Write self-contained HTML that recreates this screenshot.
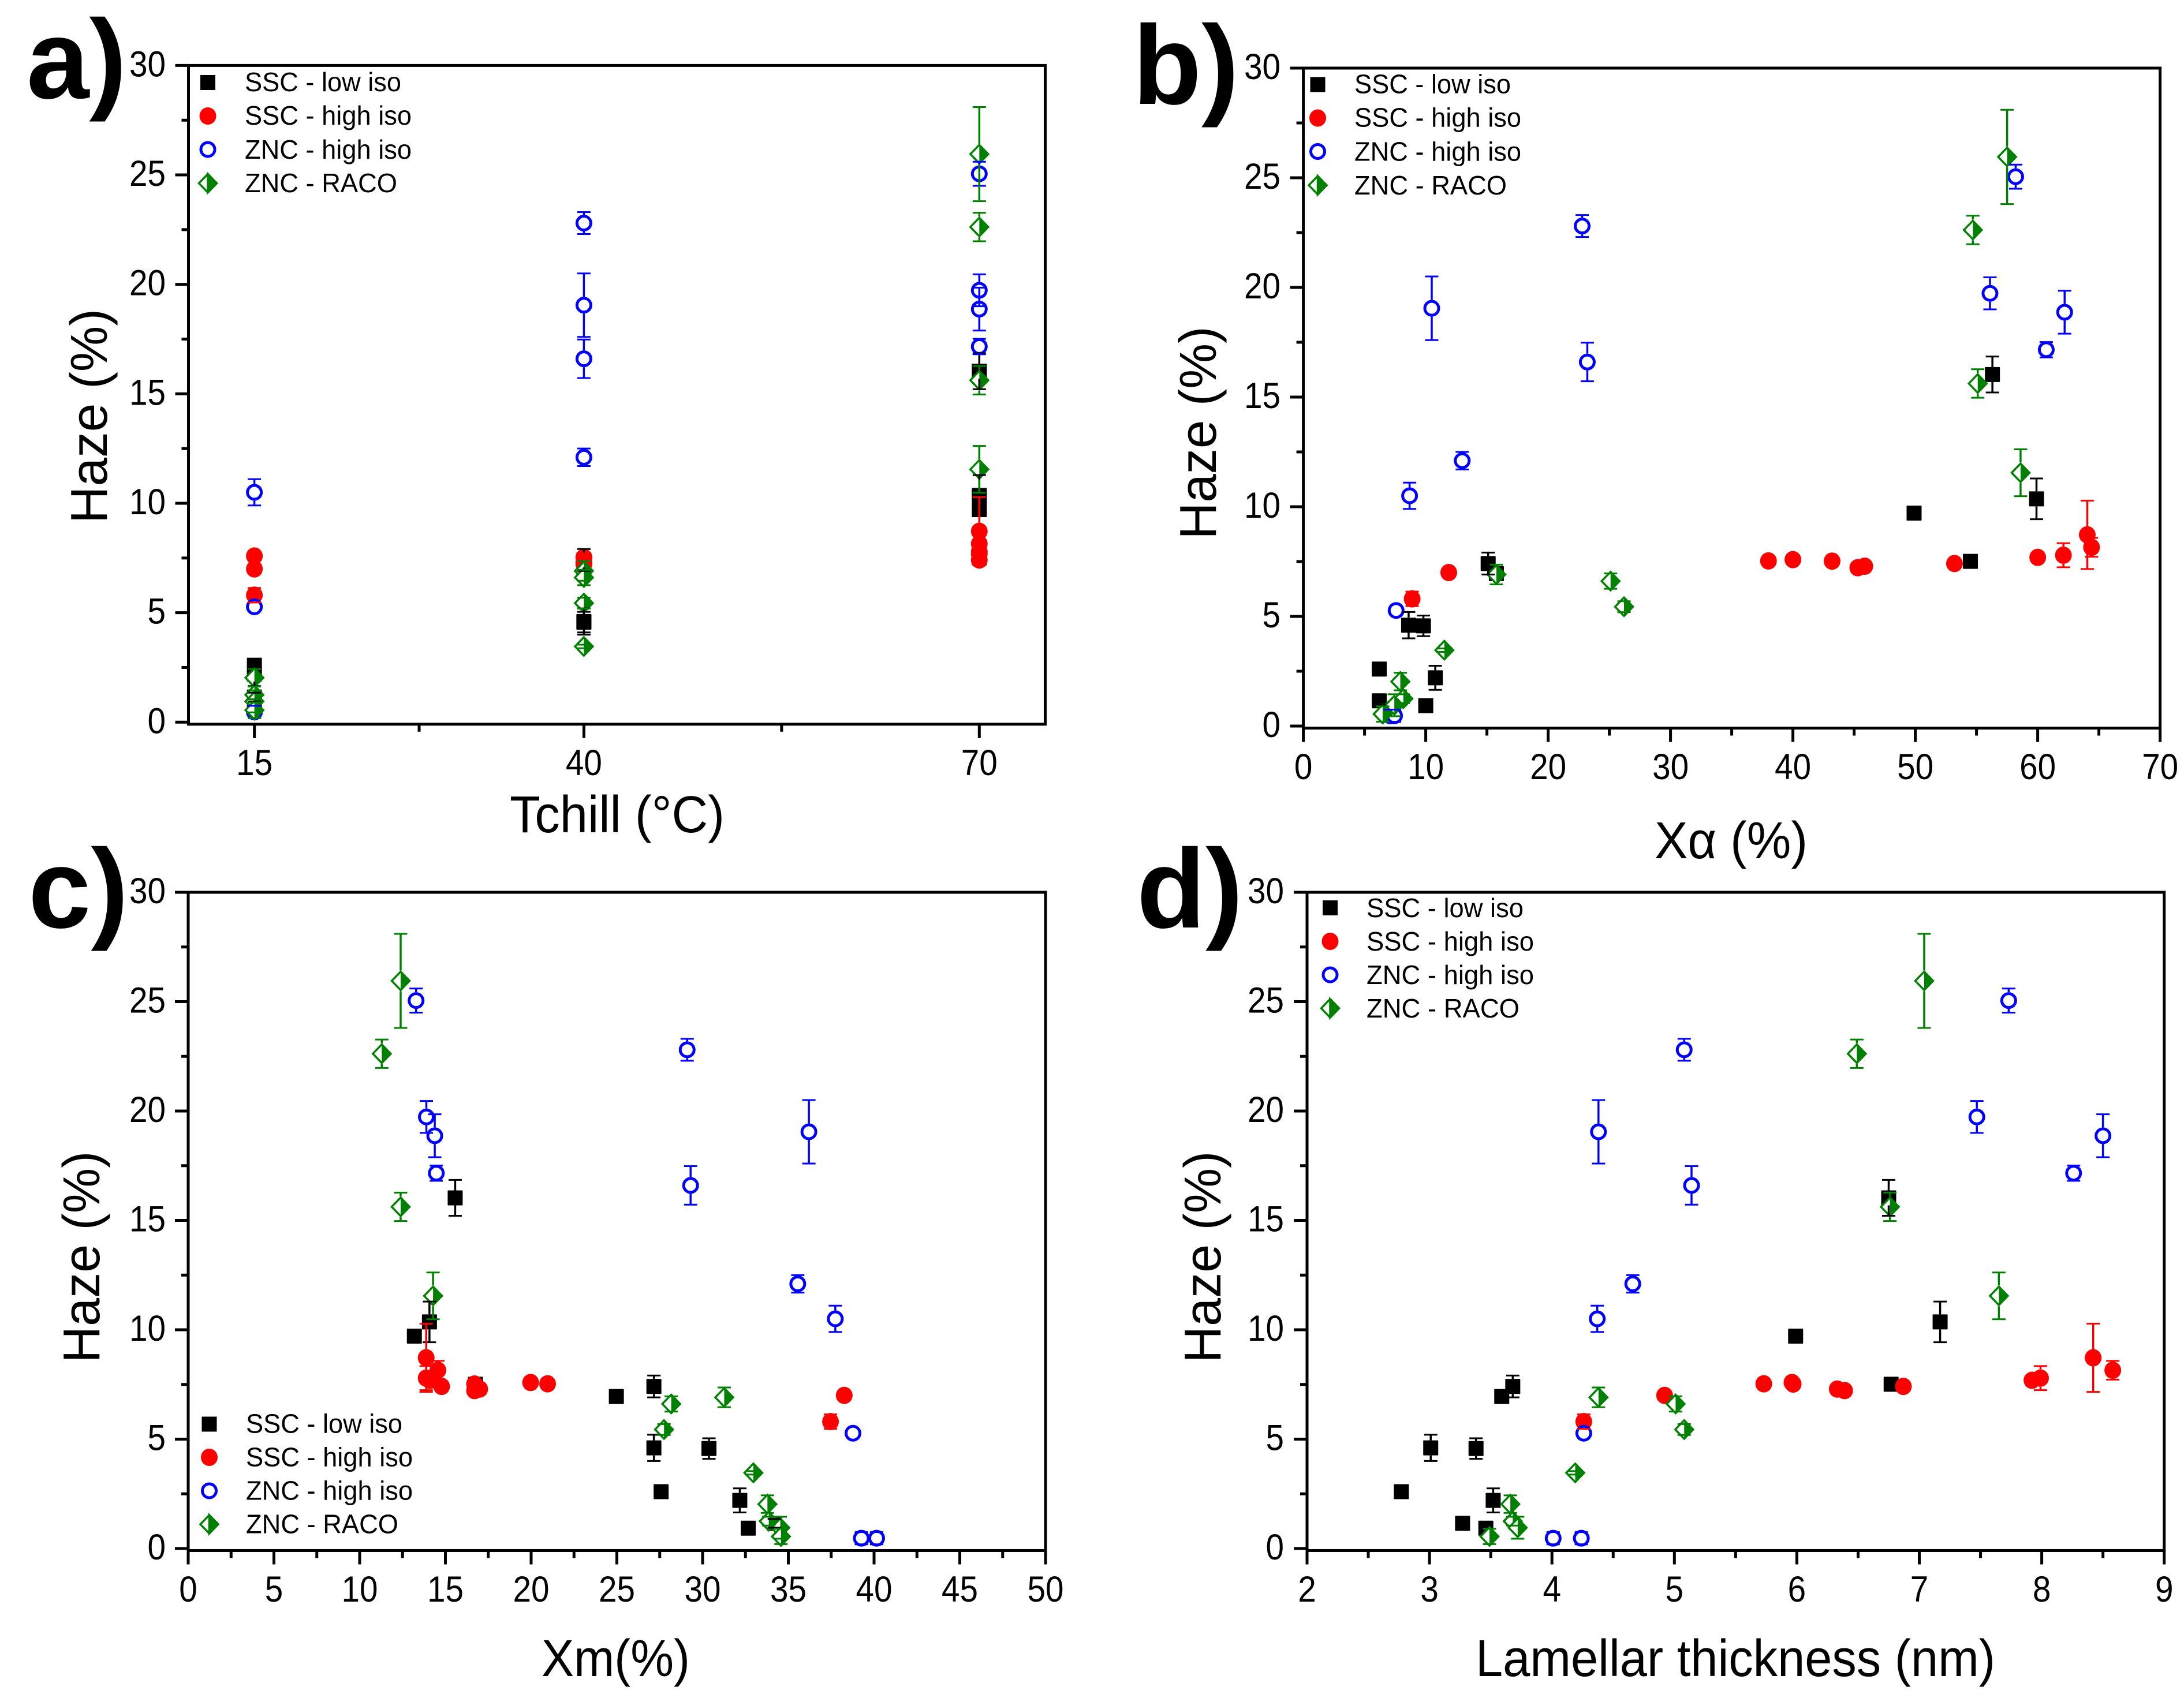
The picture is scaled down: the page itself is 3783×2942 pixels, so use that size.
<!DOCTYPE html>
<html lang="en">
<head>
<meta charset="utf-8">
<title>Haze charts</title>
<style>
html,body{margin:0;padding:0;background:#fff;}
svg{display:block;font-family:"Liberation Sans",sans-serif;}
</style>
</head>
<body>
<svg id="figure" xmlns="http://www.w3.org/2000/svg" width="3783" height="2942" viewBox="0 0 3783 2942">
<rect x="0" y="0" width="3783" height="2942" fill="#fff"/>
<g id="plots"></g>

<g font-weight="bold" font-size="195" fill="#000">
<text x="46" y="170">a)</text>
<text x="1962" y="180">b)</text>
<text x="49" y="1607">c)</text>
<text x="1969" y="1607">d)</text>
</g>

<g font-size="90" fill="#000">
<text text-anchor="middle" textLength="372" lengthAdjust="spacingAndGlyphs" transform="translate(185,721) rotate(-90)">Haze (%)</text>
<text text-anchor="middle" textLength="369" lengthAdjust="spacingAndGlyphs" transform="translate(2106,750) rotate(-90)">Haze (%)</text>
<text text-anchor="middle" textLength="367" lengthAdjust="spacingAndGlyphs" transform="translate(172,2178) rotate(-90)">Haze (%)</text>
<text text-anchor="middle" textLength="367" lengthAdjust="spacingAndGlyphs" transform="translate(2114,2178) rotate(-90)">Haze (%)</text>
<text x="883" y="1442" textLength="372" lengthAdjust="spacingAndGlyphs">Tchill (°C)</text>
<text x="2866" y="1487" textLength="265" lengthAdjust="spacingAndGlyphs">Xα (%)</text>
<text x="938" y="2904" textLength="257" lengthAdjust="spacingAndGlyphs">Xm(%)</text>
<text x="2556" y="2904" textLength="900" lengthAdjust="spacingAndGlyphs">Lamellar thickness (nm)</text>
</g>

<g font-size="46" fill="#000">
<rect x="347" y="130" width="26" height="26" fill="#000"/>
<text x="424" y="158" textLength="271" lengthAdjust="spacingAndGlyphs">SSC - low iso</text>
<ellipse cx="360" cy="201" rx="14.5" ry="15" fill="#f00"/>
<text x="424" y="216" textLength="289" lengthAdjust="spacingAndGlyphs">SSC - high iso</text>
<circle cx="360" cy="259" r="12" fill="#fff" stroke="#00f" stroke-width="5"/>
<text x="424" y="275" textLength="289" lengthAdjust="spacingAndGlyphs">ZNC - high iso</text>
<path d="M360 301.5L375.500 317.500L360 333.500L344.500 317.500Z" fill="#fff" stroke="#008000" stroke-width="3.5"/>
<path d="M360 301.500L375.500 317.500L360 333.500Z" fill="#008000" stroke="#008000" stroke-width="3.5"/>
<text x="424" y="333" textLength="264" lengthAdjust="spacingAndGlyphs">ZNC - RACO</text>
</g>

<g font-size="46" fill="#000">
<rect x="2269.500" y="133.500" width="26" height="26" fill="#000"/>
<text x="2346" y="161.500" textLength="271" lengthAdjust="spacingAndGlyphs">SSC - low iso</text>
<ellipse cx="2282.500" cy="204.500" rx="14.5" ry="15" fill="#f00"/>
<text x="2346" y="219.500" textLength="289" lengthAdjust="spacingAndGlyphs">SSC - high iso</text>
<circle cx="2282.500" cy="262.500" r="12" fill="#fff" stroke="#00f" stroke-width="5"/>
<text x="2346" y="278.500" textLength="289" lengthAdjust="spacingAndGlyphs">ZNC - high iso</text>
<path d="M2282.500 305L2298 321L2282.500 337L2267 321Z" fill="#fff" stroke="#008000" stroke-width="3.5"/>
<path d="M2282.500 305L2298 321L2282.500 337Z" fill="#008000" stroke="#008000" stroke-width="3.5"/>
<text x="2346" y="337" textLength="264" lengthAdjust="spacingAndGlyphs">ZNC - RACO</text>
</g>

<g font-size="46" fill="#000">
<rect x="349.500" y="2454.500" width="26" height="26" fill="#000"/>
<text x="426" y="2482.500" textLength="271" lengthAdjust="spacingAndGlyphs">SSC - low iso</text>
<ellipse cx="362.500" cy="2525" rx="14.5" ry="15" fill="#f00"/>
<text x="426" y="2540.500" textLength="289" lengthAdjust="spacingAndGlyphs">SSC - high iso</text>
<circle cx="362.500" cy="2583" r="12" fill="#fff" stroke="#00f" stroke-width="5"/>
<text x="426" y="2598.500" textLength="289" lengthAdjust="spacingAndGlyphs">ZNC - high iso</text>
<path d="M362.500 2625L378 2641L362.500 2657L347 2641Z" fill="#fff" stroke="#008000" stroke-width="3.5"/>
<path d="M362.500 2625L378 2641L362.500 2657Z" fill="#008000" stroke="#008000" stroke-width="3.5"/>
<text x="426" y="2656.500" textLength="264" lengthAdjust="spacingAndGlyphs">ZNC - RACO</text>
</g>

<g font-size="46" fill="#000">
<rect x="2291" y="1560" width="26" height="26" fill="#000"/>
<text x="2367" y="1589" textLength="272" lengthAdjust="spacingAndGlyphs">SSC - low iso</text>
<ellipse cx="2304" cy="1631" rx="14.5" ry="15" fill="#f00"/>
<text x="2367" y="1647" textLength="290" lengthAdjust="spacingAndGlyphs">SSC - high iso</text>
<circle cx="2304" cy="1689" r="12" fill="#fff" stroke="#00f" stroke-width="5"/>
<text x="2367" y="1705" textLength="290" lengthAdjust="spacingAndGlyphs">ZNC - high iso</text>
<path d="M2304 1731L2319.500 1747L2304 1763L2288.500 1747Z" fill="#fff" stroke="#008000" stroke-width="3.5"/>
<path d="M2304 1731L2319.500 1747L2304 1763Z" fill="#008000" stroke="#008000" stroke-width="3.5"/>
<text x="2367" y="1763" textLength="265" lengthAdjust="spacingAndGlyphs">ZNC - RACO</text>
</g>
</svg>

<script>
// Haze values and error bars, shared by the four panels
const hazeSscLow  = [16.03,10.36,9.71,7.51,7.41,6.95,4.6,4.57,2.6,2.2,1.15,0.93];
const errSscLow   = [0.82,0.93,0,0,0.5,0,0.6,0.47,0,0.55,0.2,0];
const hazeSscHigh = [8.72,8.15,7.79,7.69,7.59,7.53,7.52,7.41,7.29,7.22,7.0,5.8];
const errSscHigh  = [1.56,0.43,0.55,0,0,0,0,0,0,0,0,0.33];
const hazeZncHigh = [25.05,22.8,19.73,19.05,18.87,17.16,16.6,12.1,10.5,5.27,0.47,0.47];
const errZncHigh  = [0.55,0.5,0.73,1.45,0.98,0.35,0.88,0.4,0.6,0,0.28,0.28];
const hazeZncRaco = [25.95,22.62,15.62,11.55,6.91,6.61,5.44,3.46,2.03,1.25,0.95,0.55];
const errZncRaco  = [2.15,0.65,0.65,1.07,0.45,0.35,0.25,0.08,0.4,0.2,0.5,0.35];

// Tchill (panel a)
const tchillSscLow  = [70,70,70,70,40,40,40,40,15,15,15,15];
const tchillSscHigh = [70,70,70,70,15,40,40,70,40,40,15,15];
const tchillZncHigh = [70,40,70,40,70,70,40,40,15,15,15,15];
const tchillZncRaco = [70,70,70,70,40,40,40,40,15,15,15,15];

// X-alpha (panel b)
const xalphaSscLow  = [56.3,59.9,49.9,54.5,15.1,15.77,8.6,9.81,6.2,10.78,6.2,10.0];
const xalphaSscHigh = [64.05,64.4,62.1,60.0,40.0,38.0,43.2,53.2,45.87,45.3,11.88,8.89];
const xalphaZncHigh = [58.2,22.78,56.1,10.49,62.2,60.7,23.2,12.98,8.68,7.58,7.1,7.45];
const xalphaZncRaco = [57.5,54.7,55.1,58.6,15.77,25.1,26.2,11.52,7.92,8.17,7.43,6.48];

// Xm (panel c)
const xmSscLow  = [15.57,14.07,13.19,16.75,27.16,24.97,27.16,30.37,27.58,32.17,34.18,32.66];
const xmSscHigh = [13.88,14.56,13.88,14.1,19.97,20.96,16.7,14.78,17.0,16.7,38.26,37.46];
const xmZncHigh = [13.29,29.1,13.89,36.2,14.38,14.47,29.3,35.55,37.74,38.77,39.26,40.15];
const xmZncRaco = [12.39,11.29,12.39,14.28,31.26,28.17,27.75,32.96,33.78,33.86,34.53,34.57];

// Lamellar thickness (panel d)
const lamSscLow  = [6.75,7.17,5.99,6.77,3.68,3.59,3.01,3.38,2.77,3.52,3.27,3.46];
const lamSscHigh = [8.42,8.58,7.99,7.92,5.96,5.73,5.97,6.87,6.33,6.39,4.92,4.26];
const lamZncHigh = [7.73,5.08,7.47,4.38,8.5,8.26,5.14,4.66,4.37,4.26,4.01,4.24];
const lamZncRaco = [7.04,6.49,6.76,7.65,4.38,5.01,5.08,4.19,3.66,3.68,3.72,3.49];

// Tick labels
const yTicks = [0,5,10,15,20,25,30];
const yMinorTicks = [2.5,7.5,12.5,17.5,22.5,27.5];
const xTicksA = [15,40,70];
const xMinorA = [27.5,55];
const xTicksB = [0,10,20,30,40,50,60,70];
const xMinorB = [5,15,25,35,45,55,65];
const xTicksC = [0,5,10,15,20,25,30,35,40,45,50];
const xMinorC = [2.5,7.5,12.5,17.5,22.5,27.5,32.5,37.5,42.5,47.5];
const xTicksD = [2,3,4,5,6,7,8,9];
const xMinorD = [2.5,3.5,4.5,5.5,6.5,7.5,8.5];

const NS = 'http://www.w3.org/2000/svg';
const root = document.getElementById('plots');

function mk(parent, tag, attrs) {
  const el = document.createElementNS(NS, tag);
  for (const k in attrs) el.setAttribute(k, attrs[k]);
  parent.appendChild(el);
  return el;
}

const panels = [
  {id:'a', xMin:10, xMax:75, left:326.5, xUnit:22.83, yZero:1251.3, yUnit:37.93, xLabelY:1343, yLabelX:287,
   ticks:xTicksA, minor:xMinorA, xs:[tchillSscLow,tchillSscHigh,tchillZncHigh,tchillZncRaco]},
  {id:'b', xMin:0, xMax:70, left:2257.6, xUnit:21.2, yZero:1258, yUnit:38, xLabelY:1350, yLabelX:2218,
   ticks:xTicksB, minor:xMinorB, xs:[xalphaSscLow,xalphaSscHigh,xalphaZncHigh,xalphaZncRaco]},
  {id:'c', xMin:0, xMax:50, left:326, xUnit:29.7, yZero:2683, yUnit:37.9, xLabelY:2775, yLabelX:287,
   ticks:xTicksC, minor:xMinorC, xs:[xmSscLow,xmSscHigh,xmZncHigh,xmZncRaco]},
  {id:'d', xMin:2, xMax:9, left:2264, xUnit:212.1, yZero:2683, yUnit:37.9, xLabelY:2775, yLabelX:2224,
   ticks:xTicksD, minor:xMinorD, xs:[lamSscLow,lamSscHigh,lamZncHigh,lamZncRaco]}
];

const seriesHaze = [hazeSscLow, hazeSscHigh, hazeZncHigh, hazeZncRaco];
const seriesErr = [errSscLow, errSscHigh, errZncHigh, errZncRaco];
const seriesNames = ['ssc-low-iso','ssc-high-iso','znc-high-iso','znc-raco'];
const seriesColors = ['#000','#f00','#00f','#008000'];
const seriesHalf = [13, 15, 14.5, 18];

function drawSymbol(g, k, cx, cy) {
  const sym = document.createElementNS(NS, 'g');
  
  
  g.appendChild(sym);
  if (k === 0) {
    mk(sym, 'rect', {x:cx-13, y:cy-13, width:26, height:26, fill:'#000', rx:1});
  } else if (k === 1) {
    mk(sym, 'ellipse', {cx:cx, cy:cy, rx:14.5, ry:15, fill:'#f00'});
  } else if (k === 2) {
    mk(sym, 'circle', {cx:cx, cy:cy, r:12, fill:'#fff', stroke:'#00f', 'stroke-width':5});
  } else {
    mk(sym, 'path', {d:`M${cx} ${cy-16}L${cx+15.5} ${cy}L${cx} ${cy+16}L${cx-15.5} ${cy}Z`, fill:'#fff', stroke:'#008000', 'stroke-width':3.5});
    mk(sym, 'path', {d:`M${cx} ${cy-16}L${cx+15.5} ${cy}L${cx} ${cy+16}Z`, fill:'#008000'});
  }
}

function drawError(g, k, cx, cy, e) {
  const bar = document.createElementNS(NS, 'g');
  
  
  bar.setAttribute('stroke', seriesColors[k]);
  g.appendChild(bar);
  const half = seriesHalf[k];
  if (e > half) {
    mk(bar, 'line', {x1:cx, x2:cx, y1:cy-e, y2:cy-half, 'stroke-width':3.5});
    mk(bar, 'line', {x1:cx, x2:cx, y1:cy+half, y2:cy+e, 'stroke-width':3.5});
  }
  mk(bar, 'line', {x1:cx-11.5, x2:cx+11.5, y1:cy-e, y2:cy-e, 'stroke-width':3});
  mk(bar, 'line', {x1:cx-11.5, x2:cx+11.5, y1:cy+e, y2:cy+e, 'stroke-width':3});
}

function drawXLabel(g, text, x, y) {
  const t = document.createElementNS(NS, 'text');
  
  
  t.setAttribute('x', x);
  t.setAttribute('y', y);
  t.setAttribute('text-anchor', 'middle');
  t.setAttribute('font-size', 63);
  t.setAttribute('textLength', String(text).length * 31.5);
  t.setAttribute('lengthAdjust', 'spacingAndGlyphs');
  t.textContent = text;
  g.appendChild(t);
}

function drawYLabel(g, text, x, y) {
  const t = document.createElementNS(NS, 'text');
  
  
  t.setAttribute('x', x);
  t.setAttribute('y', y);
  t.setAttribute('text-anchor', 'end');
  t.setAttribute('font-size', 63);
  t.setAttribute('textLength', String(text).length * 31.5);
  t.setAttribute('lengthAdjust', 'spacingAndGlyphs');
  t.textContent = text;
  g.appendChild(t);
}

function drawTick(g, x1, y1, x2, y2) {
  const l = document.createElementNS(NS, 'line');
  
  
  l.setAttribute('x1', x1);
  l.setAttribute('y1', y1);
  l.setAttribute('x2', x2);
  l.setAttribute('y2', y2);
  l.setAttribute('stroke', '#000');
  l.setAttribute('stroke-width', 5);
  g.appendChild(l);
}

panels.forEach(function (p) {
  const xOf = function (v) { return p.left + (v - p.xMin) * p.xUnit; };
  const yOf = function (v) { return p.yZero - v * p.yUnit; };
  const bottom = p.yZero + 3.5;
  const right = xOf(p.xMax);
  const top = yOf(30);

  const g = document.createElementNS(NS, 'g');
  
  
  root.appendChild(g);

  const frame = document.createElementNS(NS, 'rect');
  
  
  frame.setAttribute('x', p.left);
  frame.setAttribute('y', top);
  frame.setAttribute('width', right - p.left);
  frame.setAttribute('height', bottom - top);
  frame.setAttribute('fill', 'none');
  frame.setAttribute('stroke', '#000');
  frame.setAttribute('stroke-width', 5);
  g.appendChild(frame);

  yTicks.forEach(function (v) {
    drawTick(g, p.left - 23, yOf(v), p.left, yOf(v));
    drawYLabel(g, v, p.yLabelX, yOf(v) + 19);
  });
  yMinorTicks.forEach(function (v) {
    drawTick(g, p.left - 12, yOf(v), p.left, yOf(v));
  });
  p.ticks.forEach(function (v) {
    drawTick(g, xOf(v), bottom, xOf(v), bottom + 24);
    drawXLabel(g, v, xOf(v), p.xLabelY);
  });
  p.minor.forEach(function (v) {
    drawTick(g, xOf(v), bottom, xOf(v), bottom + 13);
  });

  seriesHaze.forEach(function (haze, k) {
    haze.forEach(function (h, i) {
      drawSymbol(g, k, xOf(p.xs[k][i]), yOf(h));
    });
  });
  seriesHaze.forEach(function (haze, k) {
    haze.forEach(function (h, i) {
      const e = seriesErr[k][i];
      if (e > 0) drawError(g, k, xOf(p.xs[k][i]), yOf(h), e * p.yUnit);
    });
  });
});
</script>
</body>
</html>
